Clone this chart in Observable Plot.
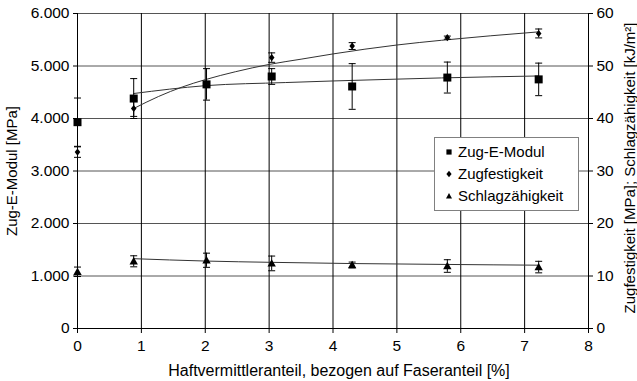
<!DOCTYPE html>
<html>
<head>
<meta charset="utf-8">
<script src="https://cdn.jsdelivr.net/npm/d3@7"></script>
<script src="https://cdn.jsdelivr.net/npm/@observablehq/plot@0.6"></script>
<style>
  body { margin: 0; background: #fff; font-family: "Liberation Sans", Arial, sans-serif; }
  #chart { position: relative; width: 637px; height: 381px; }
  .legend { position: absolute; left: 434px; top: 137px; width: 145px; height: 74px;
            border: 1px solid #808080; background: #fff; box-sizing: border-box; }
  .legend .row { position: absolute; left: 0; height: 20px; line-height: 20px; font-size: 15px; color: #000; white-space: nowrap; }
  .legend svg { position: absolute; left: 8px; top: 4px; }
  .legend span { position: absolute; left: 23px; top: 0; }
</style>
</head>
<body>
<div id="chart"></div>
<script>
// Haftvermittleranteil [%] and measured values with standard deviations
const modulX   = [0, 0.88, 2.02, 3.04, 4.30, 5.79, 7.22];
const modulY   = [3930, 4380, 4650, 4800, 4610, 4780, 4745];      // Zug-E-Modul [MPa]
const modulErr = [460, 380, 300, 150, 435, 295, 310];

const festX    = [0, 0.88, 3.04, 4.30, 5.79, 7.22];
const festY    = [33.6, 41.9, 51.6, 53.8, 55.4, 56.2];             // Zugfestigkeit [MPa]
const festErr  = [1.0, 1.5, 0.9, 0.65, 0.3, 0.85];

const schlagX   = [0, 0.88, 2.02, 3.04, 4.30, 5.79, 7.22];
const schlagY   = [10.8, 12.8, 13.0, 12.4, 12.1, 11.9, 11.7];      // Schlagzähigkeit [kJ/m²]
const schlagErr = [0.9, 1.05, 1.35, 1.4, 0.55, 1.2, 1.1];

// Trend curves
const modulTrendX = [0.88, 2.0, 3.26, 4.0, 5.0, 5.7, 7.22];
const modulTrendY = [4476, 4625, 4685, 4715, 4750, 4773, 4810];
const festTrendX  = [0.88, 1.27, 1.64, 2.0, 2.47, 3.0, 3.5, 4.0, 5.0, 5.7, 7.22];
const festTrendY  = [41.9, 44.2, 46.0, 47.4, 48.9, 50.3, 51.3, 52.3, 54.0, 54.9, 56.5];
const schlagTrendX = [0.88, 2.0, 3.05, 4.3, 5.79, 7.22];
const schlagTrendY = [13.3, 12.85, 12.6, 12.37, 12.2, 12.06];

// Axis ticks
const xTicks = [0, 1, 2, 3, 4, 5, 6, 7, 8];
const yLeftTicks = [0, 1000, 2000, 3000, 4000, 5000, 6000];
const yRightTicks = [0, 10, 20, 30, 40, 50, 60];

// right axis (0–60) shares the frame with the left axis (0–6.000)
const R = 6000 / 60;

const rows = (xs, ys, es) => xs.map((x, i) => ({x, y: ys[i], e: es ? es[i] : 0}));
const modul = rows(modulX, modulY, modulErr);
const fest = rows(festX, festY.map(v => v * R), festErr.map(v => v * R));
const schlag = rows(schlagX, schlagY.map(v => v * R), schlagErr.map(v => v * R));
const modulTrend = rows(modulTrendX, modulTrendY);
const festTrend = rows(festTrendX, festTrendY.map(v => v * R));
const schlagTrend = rows(schlagTrendX, schlagTrendY.map(v => v * R));

const half = size => Math.sqrt(size / Math.PI);
const squareSym = { draw(c, s) { const r = half(s); c.rect(-r, -r, 2 * r, 2 * r); } };
const diamondSym = { draw(c, s) { const r = half(s);
  c.moveTo(0, -r * 1.15); c.lineTo(r * 0.9, 0); c.lineTo(0, r * 1.15); c.lineTo(-r * 0.9, 0); c.closePath(); } };
const triangleSym = { draw(c, s) { const r = half(s);
  c.moveTo(0, -r); c.lineTo(r, r * 0.75); c.lineTo(-r, r * 0.75); c.closePath(); } };
const capSym = { draw(c, s) { const r = half(s); c.moveTo(-r, 0); c.lineTo(r, 0); } };

const caps = data => data.flatMap(d => [{x: d.x, y: d.y - d.e}, {x: d.x, y: d.y + d.e}]);
const errMarks = data => [
  Plot.ruleX(data, {x: "x", y1: d => d.y - d.e, y2: d => d.y + d.e, stroke: "#000", strokeWidth: 1}),
  Plot.dot(caps(data), {x: "x", y: "y", symbol: capSym, r: 3.5, stroke: "#000", strokeWidth: 1, fill: "none"})
];

const deFmt = d => d === 0 ? "0" : (d / 1000).toFixed(3);
const font = "Liberation Sans, Arial, sans-serif";

const plot = Plot.plot({
  width: 637,
  height: 381,
  marginLeft: 77,
  marginRight: 49,
  marginTop: 13,
  marginBottom: 53,
  style: { fontFamily: font, fontSize: "15px", color: "#000", background: "#fff", overflow: "visible" },
  x: { domain: [0, 8] },
  y: { domain: [0, 6000] },
  marks: [
    Plot.gridY({ ticks: yLeftTicks, stroke: "#555", strokeOpacity: 1, strokeWidth: 1 }),
    Plot.gridX({ ticks: [1, 2, 3, 4, 5, 6, 7], stroke: "#000", strokeOpacity: 1, strokeWidth: 1 }),
    Plot.ruleX([0, 8], { stroke: "#000" }),
    Plot.ruleY([0], { stroke: "#000" }),

    Plot.line(modulTrend, { x: "x", y: "y", curve: "monotone-x", stroke: "#333", strokeWidth: 1 }),
    Plot.line(festTrend, { x: "x", y: "y", curve: "monotone-x", stroke: "#333", strokeWidth: 1 }),
    Plot.line(schlagTrend, { x: "x", y: "y", curve: "monotone-x", stroke: "#333", strokeWidth: 1 }),

    ...errMarks(modul),
    ...errMarks(fest),
    ...errMarks(schlag),

    Plot.dot(modul, { x: "x", y: "y", symbol: squareSym, r: 4, fill: "#000" }),
    Plot.dot(fest, { x: "x", y: "y", symbol: diamondSym, r: 3.1, fill: "#000" }),
    Plot.dot(schlag, { x: "x", y: "y", symbol: triangleSym, r: 4.2, fill: "#000" }),

    Plot.axisY({ anchor: "left", ticks: yLeftTicks, tickFormat: deFmt, tickSize: 4, tickPadding: 4, label: null, fontSize: 15.5 }),
    Plot.axisY({ anchor: "right", ticks: yLeftTicks, tickFormat: d => String(d / R), tickSize: 4, tickPadding: 4, label: null, fontSize: 15.5 }),
    Plot.axisX({ ticks: xTicks, tickFormat: d => String(d), tickSize: 5, tickPadding: 6, label: null, fontSize: 15.5 }),

    Plot.text(["Zug-E-Modul [MPa]"], { text: d => d, frameAnchor: "left", dx: -65, rotate: -90, textAnchor: "middle", lineAnchor: "middle", fontSize: 15 }),
    Plot.text(["Zugfestigkeit [MPa]; Schlagzähigkeit [kJ/m²]"], { text: d => d, frameAnchor: "right", dx: 42, dy: -3, rotate: -90, textAnchor: "middle", lineAnchor: "middle", fontSize: 15 }),
    Plot.text(["Haftvermittleranteil, bezogen auf Faseranteil [%]"], { text: d => d, frameAnchor: "bottom", dx: 6, dy: 42, textAnchor: "middle", lineAnchor: "middle", fontSize: 16 })
  ]
});

const chart = document.getElementById("chart");
chart.appendChild(plot);

// Legend box
const legendItems = [
  { label: "Zug-E-Modul", shape: "M-2.6,-2.6h5.2v5.2h-5.2z", top: 4 },
  { label: "Zugfestigkeit", shape: "M0,-3.2L2.6,0L0,3.2L-2.6,0z", top: 26 },
  { label: "Schlagzähigkeit", shape: "M0,-3L3,2.4L-3,2.4z", top: 48 }
];
const legend = document.createElement("div");
legend.className = "legend";
for (const item of legendItems) {
  const row = document.createElement("div");
  row.className = "row";
  row.style.top = item.top + "px";
  row.innerHTML = `<svg width="12" height="12" viewBox="-6 -6 12 12"><path d="${item.shape}" fill="#000"/></svg><span>${item.label}</span>`;
  legend.appendChild(row);
}
chart.appendChild(legend);
</script>
</body>
</html>
